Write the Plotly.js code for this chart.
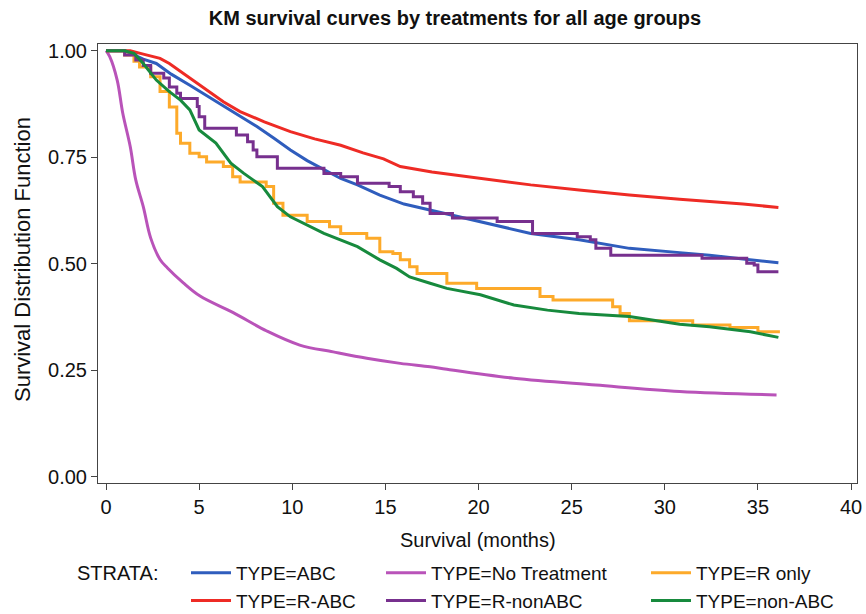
<!DOCTYPE html>
<html>
<head>
<meta charset="utf-8">
<script src="https://cdn.plot.ly/plotly-3.0.1.min.js"></script>
<style>
html,body{margin:0;padding:0;background:#fff;}
#chart{width:866px;height:614px;}
</style>
</head>
<body>
<div id="chart"></div>
<script>
// ---- Data ----
var seriesNames = ["TYPE=ABC", "TYPE=No Treatment", "TYPE=R only", "TYPE=R-ABC", "TYPE=R-nonABC", "TYPE=non-ABC"];
var xTitle = "Survival (months)";
var yTitle = "Survival Distribution Function";
var chartTitle = "KM survival curves by treatments for all age groups";

// TYPE=ABC
var abcT = [0, 1.0, 1.5, 2.0, 2.7, 3.5, 4.5, 5.4, 6.3, 7.2, 8.1, 9.0, 9.9, 10.8, 11.7, 12.6, 13.5, 14.7, 16.0, 17.4, 18.7, 20.1, 21.5, 22.8, 25.4, 28.1, 30.8, 32.4, 34.2, 36.1];
var abcS = [1, 1.0, 0.99, 0.98, 0.97, 0.945, 0.919, 0.895, 0.872, 0.847, 0.822, 0.795, 0.767, 0.742, 0.72, 0.70, 0.685, 0.661, 0.64, 0.626, 0.612, 0.599, 0.585, 0.571, 0.556, 0.536, 0.526, 0.52, 0.511, 0.502];

// TYPE=No Treatment
var noT = [0, 0.2, 0.6, 0.9, 1.3, 1.6, 2.0, 2.4, 2.9, 3.3, 4.15, 5.05, 6.83, 8.63, 10.4, 12.2, 14.0, 15.8, 17.4, 18.3, 21.9, 26.3, 30.8, 36.0];
var noS = [1, 0.986, 0.931, 0.853, 0.775, 0.696, 0.634, 0.56, 0.51, 0.49, 0.455, 0.424, 0.385, 0.342, 0.309, 0.293, 0.278, 0.266, 0.258, 0.252, 0.231, 0.215, 0.2, 0.192];

// TYPE=R only (step curve)
var rOnlyT = [0, 1.0, 1.5, 1.8, 2.4, 2.9, 3.4, 3.8, 4.0, 4.5, 5.0, 5.4, 6.3, 6.8, 7.2, 8.6, 9.0, 9.5, 10.8, 12.0, 12.6, 14.0, 14.7, 15.4, 15.8, 16.3, 16.7, 18.3, 19.9, 23.3, 24.0, 27.2, 27.6, 28.1, 31.5, 33.5, 35.0, 36.1];
var rOnlyS = [1, 0.99, 0.975, 0.962, 0.939, 0.904, 0.868, 0.806, 0.783, 0.759, 0.751, 0.739, 0.728, 0.704, 0.692, 0.681, 0.642, 0.614, 0.599, 0.587, 0.571, 0.56, 0.528, 0.524, 0.509, 0.493, 0.477, 0.454, 0.442, 0.423, 0.415, 0.399, 0.383, 0.366, 0.356, 0.35, 0.34, 0.337];

// TYPE=R-ABC
var rabcT = [0, 1.3, 2.0, 2.9, 3.4, 4.0, 4.5, 5.4, 6.3, 7.2, 8.5, 9.9, 11.2, 12.6, 13.8, 14.9, 15.8, 17.5, 20.1, 21.5, 22.8, 25.4, 28.1, 30.8, 32.4, 34.2, 36.1];
var rabcS = [1, 1.0, 0.992, 0.982, 0.97, 0.951, 0.935, 0.908, 0.88, 0.857, 0.833, 0.81, 0.793, 0.778, 0.76, 0.746, 0.728, 0.715, 0.70, 0.692, 0.685, 0.673, 0.661, 0.651, 0.646, 0.64, 0.632];

// TYPE=R-nonABC (step curve)
var rnonT = [0, 1.0, 1.6, 2.0, 2.4, 3.1, 3.4, 3.8, 4.0, 4.9, 5.0, 5.3, 7.0, 7.6, 7.9, 8.1, 9.2, 11.7, 12.6, 13.5, 15.2, 15.8, 16.5, 17.0, 17.4, 18.6, 21.0, 22.9, 25.3, 26.0, 26.3, 27.1, 32.0, 34.4, 34.8, 35.0, 36.1];
var rnonS = [1, 0.99, 0.978, 0.965, 0.947, 0.936, 0.915, 0.90, 0.888, 0.869, 0.845, 0.818, 0.802, 0.786, 0.767, 0.751, 0.724, 0.712, 0.704, 0.689, 0.681, 0.669, 0.657, 0.642, 0.618, 0.607, 0.599, 0.571, 0.563, 0.556, 0.536, 0.52, 0.513, 0.501, 0.497, 0.481, 0.481];

// TYPE=non-ABC
var nonT = [0, 1.0, 1.5, 2.0, 2.7, 3.4, 4.0, 4.5, 5.0, 5.9, 6.7, 7.4, 8.4, 9.2, 9.9, 11.7, 13.5, 14.7, 15.6, 16.3, 17.4, 18.3, 20.1, 21.9, 23.7, 25.4, 28.1, 30.8, 32.4, 34.6, 36.1];
var nonS = [1, 1.0, 0.994, 0.97, 0.931, 0.904, 0.884, 0.861, 0.814, 0.783, 0.736, 0.712, 0.681, 0.634, 0.61, 0.571, 0.54, 0.509, 0.489, 0.469, 0.454, 0.442, 0.427, 0.403, 0.391, 0.383, 0.376, 0.358, 0.352, 0.34, 0.327];

var xTicks = [0, 5, 10, 15, 20, 25, 30, 35, 40];
var yTicks = [0, 0.25, 0.5, 0.75, 1.0];
var yTickText = ["0.00", "0.25", "0.50", "0.75", "1.00"];

// ---- Styles ----
var colors = {
  abc: "#2f5dbd", no: "#b953b9", ronly: "#fdaa2a",
  rabc: "#ee2b25", rnon: "#77308e", non: "#178a3d"
};
var FONT = "Liberation Sans, Arial, sans-serif";
var LW = 3;
var W = 866, H = 614, ML = 98, MR = 9, MT = 44, MB = 131;
var PW = W - ML - MR, PH = H - MT - MB;

function tr(x, y, name, color, shape, legend) {
  return {
    type: "scatter", mode: "lines", x: x, y: y, name: name,
    line: {color: color, width: LW, shape: shape},
    legend: legend, hoverinfo: "skip"
  };
}

var data = [
  tr(abcT, abcS, seriesNames[0], colors.abc, "linear", "legend"),
  tr(noT, noS, seriesNames[1], colors.no, "spline", "legend2"),
  tr(rOnlyT, rOnlyS, seriesNames[2], colors.ronly, "hv", "legend3"),
  tr(rabcT, rabcS, seriesNames[3], colors.rabc, "linear", "legend"),
  tr(rnonT, rnonS, seriesNames[4], colors.rnon, "hv", "legend2"),
  tr(nonT, nonS, seriesNames[5], colors.non, "linear", "legend3")
];

function leg(xpx) {
  return {
    orientation: "v", xref: "container", yref: "container",
    x: xpx / W, xanchor: "left", y: 1 - 554 / H, yanchor: "top",
    font: {family: FONT, size: 19, color: "#111"},
    bgcolor: "rgba(0,0,0,0)", borderwidth: 0, traceorder: "normal",
    itemwidth: 40, tracegroupgap: 0
  };
}

var layout = {
  width: W, height: H,
  paper_bgcolor: "#fff", plot_bgcolor: "#fff",
  margin: {l: ML, r: MR, t: MT, b: MB, autoexpand: false},
  font: {family: FONT, color: "#111"},
  title: {
    text: "<b>" + chartTitle + "</b>",
    font: {family: FONT, size: 20, color: "#111"},
    xref: "container", x: 455 / W, xanchor: "center",
    yref: "container", y: 1 - 18 / H, yanchor: "middle"
  },
  xaxis: {
    range: [-0.43, 40.32], tickvals: xTicks, ticktext: xTicks.map(String),
    showgrid: false, zeroline: false,
    showline: true, mirror: true, linecolor: "#444", linewidth: 1,
    ticks: "outside", ticklen: 6, tickcolor: "#444",
    tickfont: {family: FONT, size: 20, color: "#111"}
  },
  yaxis: {
    range: [-0.0148, 1.0157], tickvals: yTicks, ticktext: yTickText,
    showgrid: false, zeroline: false,
    showline: true, mirror: true, linecolor: "#444", linewidth: 1,
    ticks: "outside", ticklen: 6, tickcolor: "#444",
    tickfont: {family: FONT, size: 20, color: "#111"}
  },
  legend: leg(186),
  legend2: leg(381),
  legend3: leg(646),
  annotations: [
    {
      text: "STRATA:", xref: "paper", yref: "paper",
      x: (75 - ML) / PW, y: (H - MB - 573) / PH, xanchor: "left", yanchor: "middle",
      showarrow: false, font: {family: FONT, size: 20, color: "#111"}
    },
    {
      text: xTitle, xref: "paper", yref: "paper",
      x: 0.5, y: (H - MB - 540) / PH, xanchor: "center", yanchor: "middle",
      showarrow: false, font: {family: FONT, size: 20, color: "#111"}
    },
    {
      text: yTitle, xref: "paper", yref: "paper", textangle: -90,
      x: (22 - ML) / PW, y: (H - MB - 260) / PH, xanchor: "center", yanchor: "middle",
      showarrow: false, font: {family: FONT, size: 22, color: "#111"}
    }
  ]
};

Plotly.newPlot("chart", data, layout, {displayModeBar: false, staticPlot: true});
</script>
</body>
</html>
